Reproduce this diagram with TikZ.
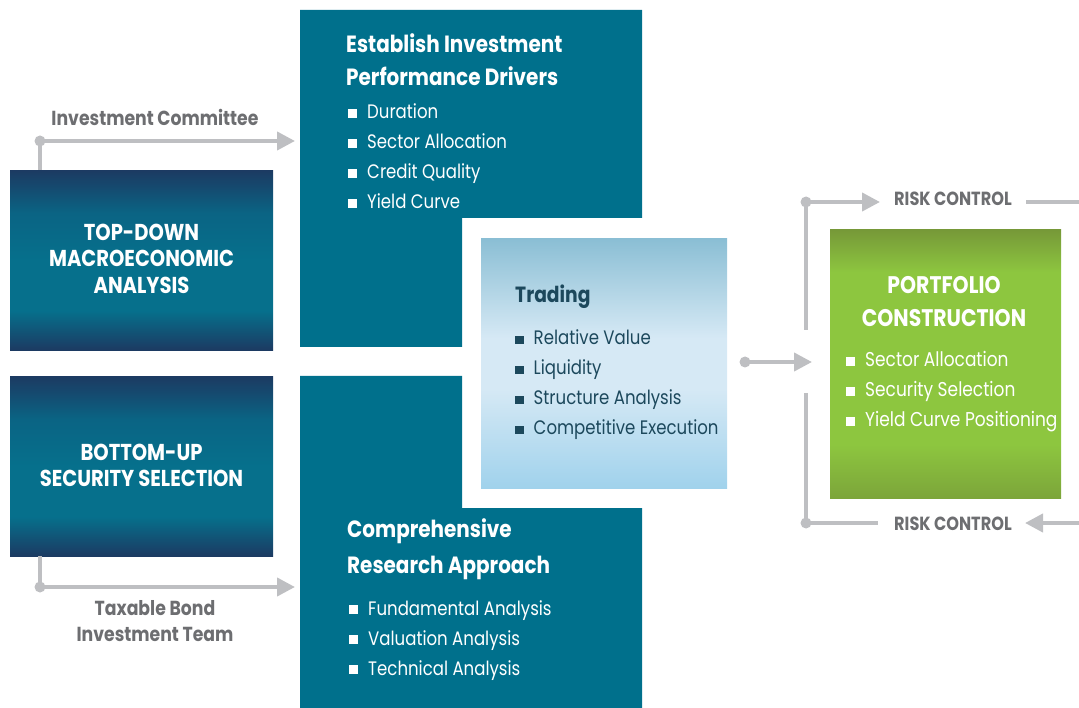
\documentclass[tikz,border=0pt]{standalone}
\usepackage{fontspec}
\setmainfont{Poppins}[FakeStretch=0.85]
\usetikzlibrary{arrows.meta}
\definecolor{tealbox}{RGB}{0,112,140}
\definecolor{navy}{RGB}{28,58,98}
\definecolor{tealA}{RGB}{10,100,132}
\definecolor{tealB}{RGB}{6,112,140}
\definecolor{linegray}{RGB}{190,191,194}
\definecolor{txtgray}{RGB}{109,110,113}
\definecolor{tradtxt}{RGB}{28,72,92}
\definecolor{trTop}{RGB}{138,190,212}
\definecolor{trMid}{RGB}{214,233,245}
\definecolor{trBot}{RGB}{160,210,236}
\definecolor{grDark}{RGB}{118,152,56}
\definecolor{grLight}{RGB}{141,198,63}
\definecolor{grBot}{RGB}{124,165,58}
\pgfdeclareverticalshading{leftshade}{100bp}{color(0bp)=(navy); color(25bp)=(navy); color(36bp)=(tealB); color(50bp)=(tealB); color(63bp)=(tealA); color(75bp)=(navy); color(100bp)=(navy)}
\pgfdeclareverticalshading{tradeshade}{100bp}{color(0bp)=(trBot); color(25bp)=(trBot); color(45bp)=(trMid); color(55bp)=(trMid); color(75bp)=(trTop); color(100bp)=(trTop)}
\pgfdeclareverticalshading{greenshade}{100bp}{color(0bp)=(grBot); color(25bp)=(grBot); color(35bp)=(grLight); color(67bp)=(grLight); color(75bp)=(grDark); color(100bp)=(grDark)}
\newcommand{\wsq}{\textcolor{white}{\raisebox{1pt}{\rule{9pt}{9pt}}}\hspace{10pt}}
\newcommand{\dsq}{\textcolor{tradtxt}{\raisebox{1pt}{\rule{8.5pt}{8.5pt}}}\hspace{10pt}}
\tikzset{
  conn/.style={draw=linegray, line width=4pt},
  arr/.style={conn, -{Triangle[length=18pt,width=18pt]}},
  dotc/.style={fill=linegray},
  lbox/.style={shading=leftshade, minimum width=263pt, minimum height=180pt, inner sep=0pt},
  ltxt/.style={inner sep=0pt, text=white, align=center, font=\fontsize{23}{26.5}\selectfont\bfseries},
  ttl/.style={anchor=base west, inner sep=0pt, text=white, font=\fontsize{23.5}{23.5}\selectfont\bfseries},
  bul/.style={anchor=base west, inner sep=0pt, text=white, font=\fontsize{19.5}{19.5}\selectfont},
  tbul/.style={bul, text=tradtxt},
  lbl/.style={inner sep=0pt, text=txtgray, font=\fontsize{20.3}{20.3}\selectfont\bfseries},
  rlbl/.style={anchor=base west, inner sep=0pt, text=txtgray, font=\fontsize{19}{19}\selectfont\bfseries},
}
\begin{document}
\begin{tikzpicture}[x=1pt,y=-1pt]
\useasboundingbox (0,0) rectangle (1079,708);
% teal shapes
\fill[tealbox] (300,10) -- (642,10) -- (642,218) -- (462,218) -- (462,347) -- (300,347) -- cycle;
\fill[tealbox] (300,376) -- (462,376) -- (462,508) -- (642,508) -- (642,708) -- (300,708) -- cycle;
% left boxes
\node[lbox, anchor=north west] (topdown) at (10,170) {};
\node[lbox, anchor=north west] (bottomup) at (10,376) {};
\node[ltxt, anchor=base] (tdtxt) at (141.5,293.3) {TOP-DOWN\\MACROECONOMIC\\ANALYSIS};
\node[ltxt, anchor=base] (butxt) at (141.5,486.7) {BOTTOM-UP\\SECURITY SELECTION};
% trading box
\node[shading=tradeshade, minimum width=246pt, minimum height=250pt, inner sep=0pt, anchor=north west] (trading) at (481,238) {};
% portfolio box
\node[shading=greenshade, minimum width=231pt, minimum height=269pt, inner sep=0pt, anchor=north west] (portfolio) at (830,229) {};
% drivers text
\node[ttl] (dr1) at (346,53) {Establish Investment};
\node[ttl] (dr2) at (346,86) {Performance Drivers};
\node[bul] (dr3) at (348,119) {\wsq Duration};
\node[bul] (dr4) at (348,149) {\wsq Sector Allocation};
\node[bul] (dr5) at (348,179) {\wsq Credit Quality};
\node[bul] (dr6) at (348,209) {\wsq Yield Curve};
% research text
\node[ttl] (rs1) at (347,537) {Comprehensive};
\node[ttl] (rs2) at (347,573) {Research Approach};
\node[bul] (rs3) at (349,615) {\wsq Fundamental Analysis};
\node[bul] (rs4) at (349,645) {\wsq Valuation Analysis};
\node[bul] (rs5) at (349,675) {\wsq Technical Analysis};
% trading text
\node[ttl, text=tradtxt, font=\fontsize{22}{22}\selectfont\bfseries] (tr1) at (515,303) {Trading};
\node[tbul] (tr2) at (515,345) {\dsq Relative Value};
\node[tbul] (tr3) at (515,375) {\dsq Liquidity};
\node[tbul] (tr4) at (515,405) {\dsq Structure Analysis};
\node[tbul] (tr5) at (515,435) {\dsq Competitive Execution};
% portfolio text
\node[anchor=base, inner sep=0pt, text=white, font=\fontsize{24}{24}\selectfont\bfseries] (pc1) at (944,294) {PORTFOLIO};
\node[anchor=base, inner sep=0pt, text=white, font=\fontsize{24}{24}\selectfont\bfseries] (pc2) at (944,327) {CONSTRUCTION};
\node[bul, font=\fontsize{20}{20}\selectfont] (pc3) at (846,367) {\wsq Sector Allocation};
\node[bul, font=\fontsize{20}{20}\selectfont] (pc4) at (846,397) {\wsq Security Selection};
\node[bul, font=\fontsize{20}{20}\selectfont] (pc5) at (846,427) {\wsq Yield Curve Positioning};
% left labels
\node[lbl, anchor=base] (ic) at (155,126) {Investment Committee};
\node[lbl, anchor=base] (tb1) at (155,615) {Taxable Bond};
\node[lbl, anchor=base] (tb2) at (155,641.7) {Investment Team};
% connectors left
\coordinate (icCorner) at (40,141);
\coordinate (icTip) at (295,141);
\coordinate (tbCorner) at (40,587);
\coordinate (tbTip) at (295,587);
\draw[arr] ([xshift=30pt]topdown.north west) -- (icCorner) -- (icTip);
\fill[dotc] (icCorner) circle (5.5pt);
\draw[arr] ([xshift=30pt]bottomup.south west) -- (tbCorner) -- (tbTip);
\fill[dotc] (tbCorner) circle (5.5pt);
% connectors right
\coordinate (pIn) at (745,362);
\coordinate (pTip) at (812,362);
\draw[arr] (pIn) -- (pTip);
\fill[dotc] (pIn) circle (5.5pt);
\coordinate (rcTop) at (806,202);
\coordinate (rcTopTip) at (880,202);
\coordinate (rcBot) at (806,523);
\coordinate (rcBotEnd) at (878,523);
\draw[conn] (806,330) -- (rcTop);
\draw[arr] (rcTop) -- (rcTopTip);
\fill[dotc] (rcTop) circle (5.5pt);
\draw[conn] (806,393) -- (rcBot) -- (rcBotEnd);
\fill[dotc] (rcBot) circle (5.5pt);
\node[rlbl] (rc1) at (894,206) {RISK CONTROL};
\node[rlbl] (rc2) at (894,530) {RISK CONTROL};
\coordinate (rcTopR) at (1026,202);
\draw[conn] (rcTopR) -- (1079,202);
\coordinate (rcBotTip) at (1025,523);
\draw[arr] (1079,523) -- (rcBotTip);
\end{tikzpicture}
\end{document}
